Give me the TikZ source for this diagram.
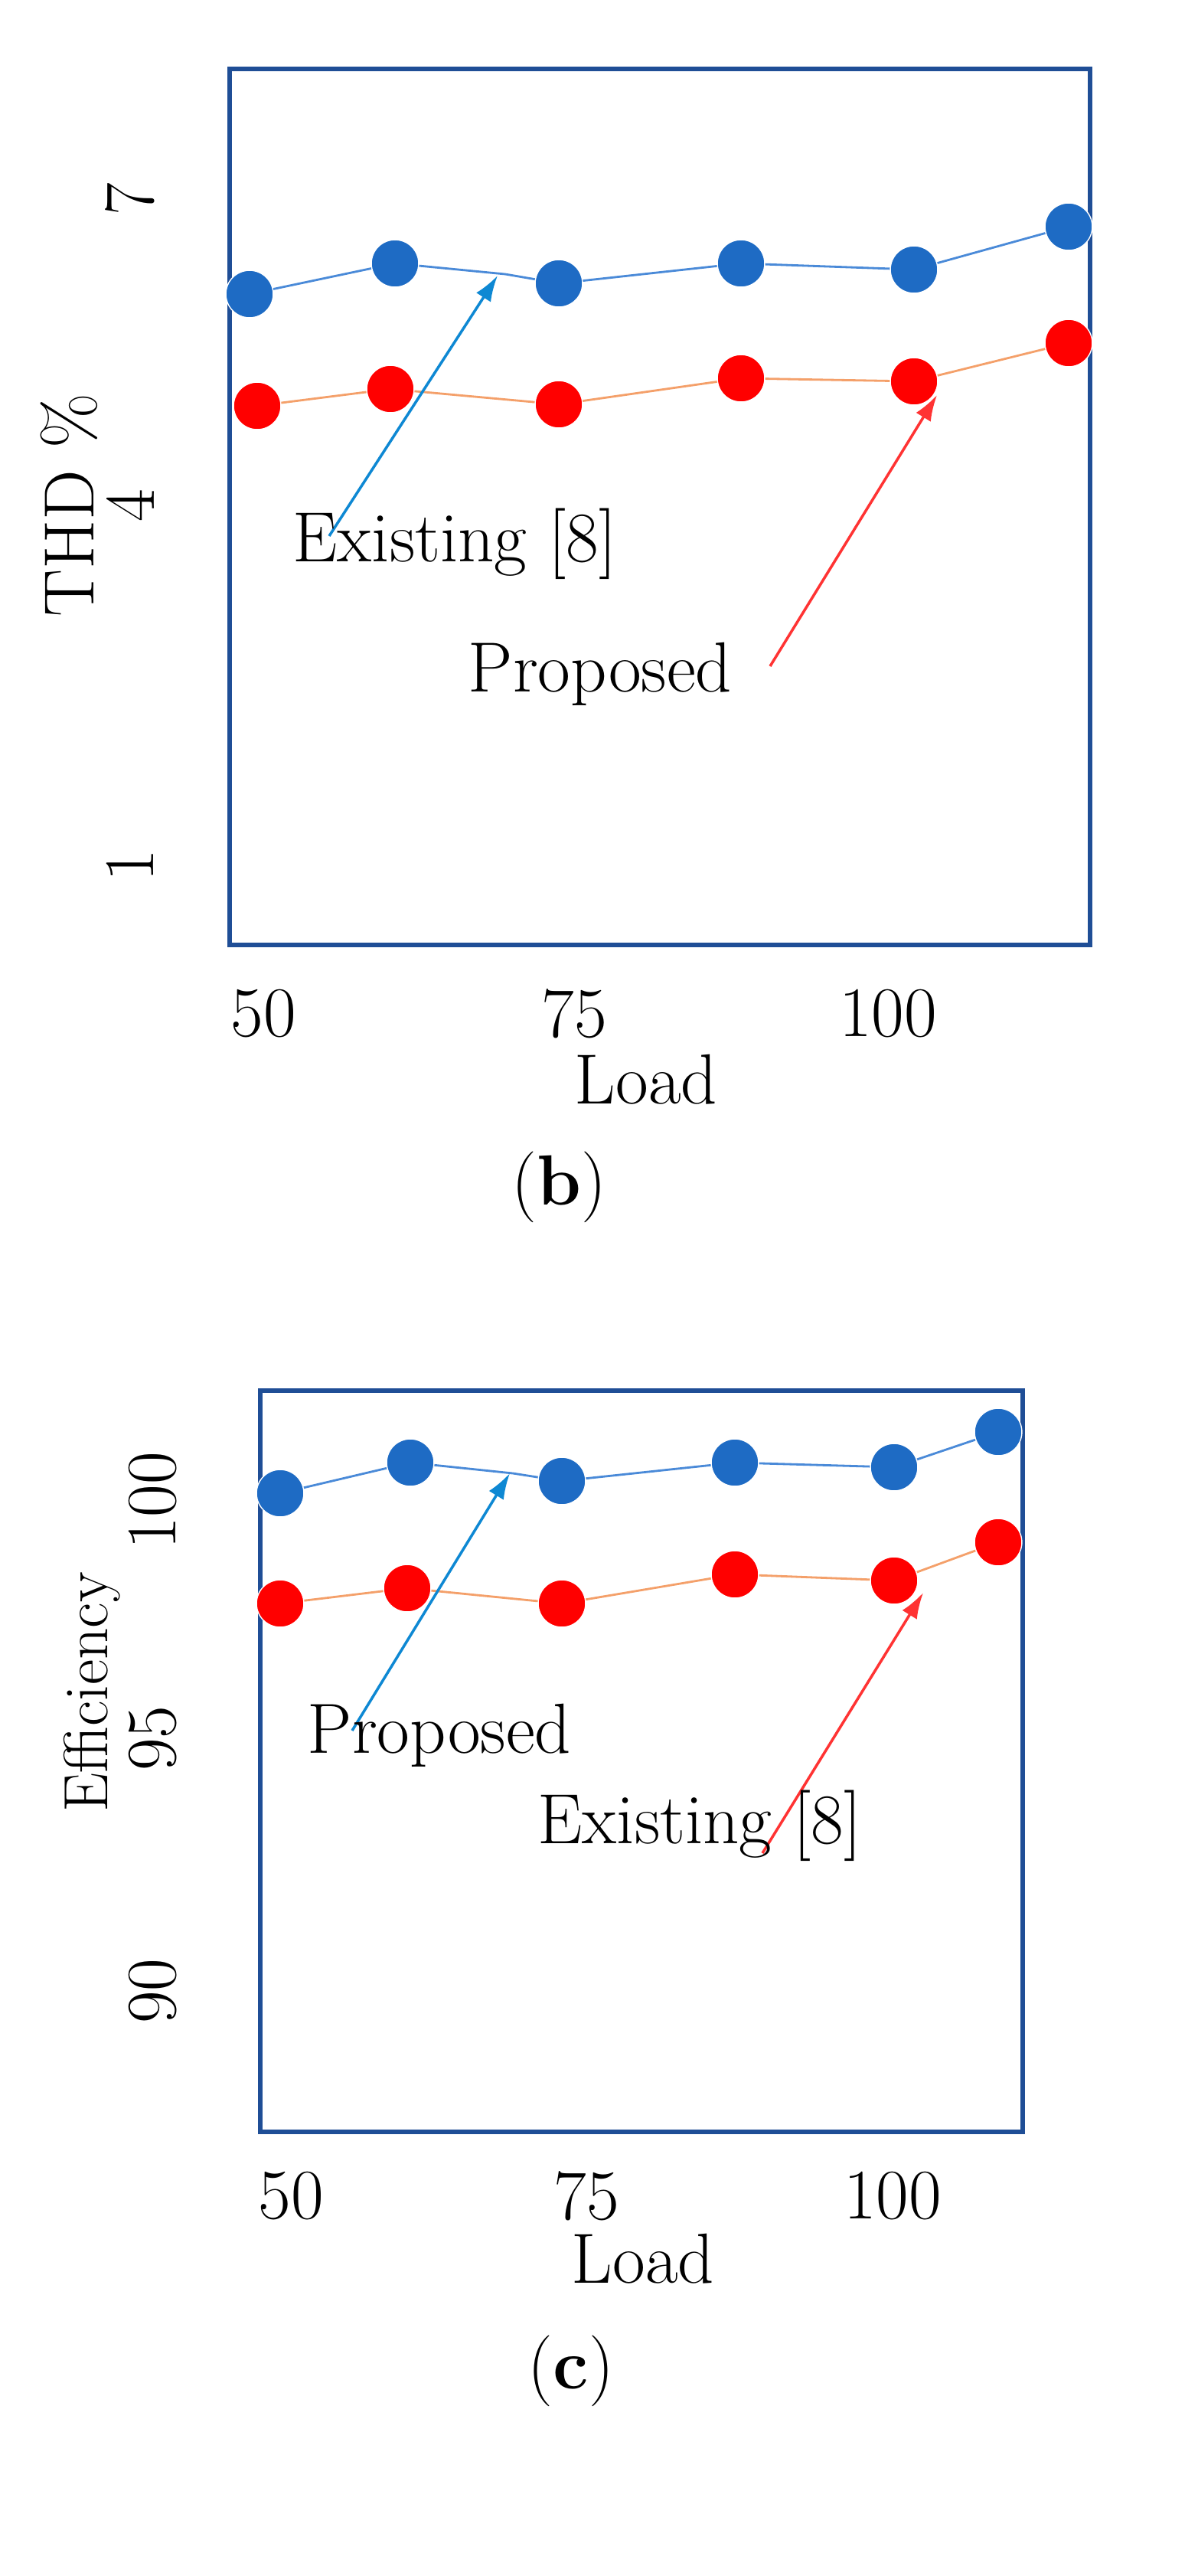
\documentclass[tikz,border=0pt]{standalone}
\usetikzlibrary{arrows.meta}
\definecolor{frm}{HTML}{1F4E96}
\definecolor{bdc}{HTML}{1E6BC4}
\definecolor{bln}{HTML}{4A8AD8}
\definecolor{oln}{HTML}{F4A06A}
\begin{document}
\begin{tikzpicture}[x=0.05cm,y=-0.05cm,
 frame/.style={draw=frm,line width=4pt},
 bdot/.style={circle,fill=bdc,draw=white,line width=1pt,minimum size=44pt,inner sep=0},
 rdot/.style={circle,fill=red,draw=white,line width=1pt,minimum size=44pt,inner sep=0},
 bline/.style={draw=bln,line width=2pt},
 rline/.style={draw=oln,line width=2pt},
 lbl/.style={font=\fontsize{66}{76}\selectfont,inner sep=0},
 barr/.style={draw=cyan!70!blue,line width=2.5pt,-{Latex[length=24pt,width=16pt]}},
 rarr/.style={draw=red!80,line width=2.5pt,-{Latex[length=24pt,width=16pt]}}]
\useasboundingbox (0,0) rectangle (782,1682);
% panel b
\draw[frame] (150,45) rectangle (712,617);
\foreach \n/\x/\y in {a/163/192,b/258/172,c/365/185,d/484/172,e/597/176,f/698/148}
  \coordinate (b\n) at (\x,\y);
\foreach \n/\x/\y in {a/168/265,b/255/254,c/365/264,d/484/247,e/597/249,f/698/224}
  \coordinate (r\n) at (\x,\y);
\coordinate (bk) at (330,179);
\draw[bline] (ba)--(bb)--(bk)--(bc)--(bd)--(be)--(bf);
\draw[rline] (ra)--(rb)--(rc)--(rd)--(re)--(rf);
\foreach \n in {a,b,c,d,e,f}{\node[bdot] (nb\n) at (b\n) {};\node[rdot] (nr\n) at (r\n) {};}
\coordinate (ba1) at (215,350); \coordinate (ba2) at (325,180);
\draw[barr] (ba1)--(ba2);
\node[lbl] (bt1) at (297,355) {Existing [8]};
\coordinate (ra1) at (503,435); \coordinate (ra2) at (612,258);
\draw[rarr] (ra1)--(ra2);
\node[lbl] (bt2) at (392,440) {Proposed};
\node[lbl,rotate=90] (by7) at (85,130) {7};
\node[lbl,rotate=90] (by4) at (85,330) {4};
\node[lbl,rotate=90] (by1) at (85,565) {1};
\node[lbl,rotate=90] (byl) at (45,330) {THD \%};
\node[lbl] (bx1) at (172,662) {50};
\node[lbl] (bx2) at (375,662) {75};
\node[lbl] (bx3) at (580,662) {100};
\node[lbl] (bxl) at (422,705) {Load};
\node[lbl] (bcap) at (365,775) {(\textbf{b})};
% panel c
\draw[frame] (170,908) rectangle (668,1392);
\foreach \n/\x/\y in {a/183/975,b/268/955,c/367/967,d/480/955,e/584/958,f/652/935}
  \coordinate (c\n) at (\x,\y);
\foreach \n/\x/\y in {a/183/1047,b/266/1037,c/367/1047,d/480/1028,e/584/1032,f/652/1007}
  \coordinate (s\n) at (\x,\y);
\coordinate (ck) at (335,962);
\draw[bline] (ca)--(cb)--(ck)--(cc)--(cd)--(ce)--(cf);
\draw[rline] (sa)--(sb)--(sc)--(sd)--(se)--(sf);
\foreach \n in {a,b,c,d,e,f}{\node[bdot] (nc\n) at (c\n) {};\node[rdot] (ns\n) at (s\n) {};}
\coordinate (ca1) at (230,1130); \coordinate (ca2) at (333,962);
\draw[barr] (ca1)--(ca2);
\node[lbl] (ct1) at (287,1133) {Proposed};
\coordinate (sa1) at (498,1210); \coordinate (sa2) at (603,1040);
\draw[rarr] (sa1)--(sa2);
\node[lbl] (ct2) at (457,1192) {Existing [8]};
\node[lbl,rotate=90] (cy1) at (100,980) {100};
\node[lbl,rotate=90] (cy2) at (100,1135) {95};
\node[lbl,rotate=90] (cy3) at (100,1300) {90};
\node[lbl,rotate=90,font=\fontsize{58}{66}\selectfont] (cyl) at (60,1105) {Efficiency};
\node[lbl] (cx1) at (190,1434) {50};
\node[lbl] (cx2) at (383,1434) {75};
\node[lbl] (cx3) at (583,1434) {100};
\node[lbl] (cxl) at (420,1475) {Load};
\node[lbl] (ccap) at (373,1548) {(\textbf{c})};
\end{tikzpicture}
\end{document}
